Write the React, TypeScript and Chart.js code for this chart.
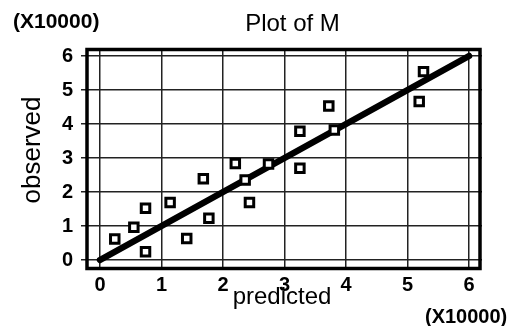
import React, { useEffect, useRef } from "react";
import { Chart, registerables } from "chart.js";

Chart.register(...registerables);

const predicted = [0.24, 0.55, 0.74, 0.74, 1.14, 1.41, 1.68, 1.77, 2.2, 2.36, 2.43, 2.74, 3.25, 3.25, 3.72, 3.81, 5.19, 5.26];
const observed = [0.62, 0.96, 1.52, 0.24, 1.69, 0.63, 2.39, 1.23, 2.84, 2.35, 1.69, 2.82, 2.7, 3.79, 4.53, 3.82, 4.66, 5.54];
const fitLine = [0, 6];
const xTicks = [0, 1, 2, 3, 4, 5, 6];
const yTicks = [0, 1, 2, 3, 4, 5, 6];
const titleText = "Plot of M";
const xTitle = "predicted";
const yTitle = "observed";
const scaleNote = "(X10000)";

const FONT = '"Liberation Sans", Arial, sans-serif';

const decorPlugin = {
  id: "decor",
  afterDraw(chart: any) {
    const ctx = chart.ctx;
    const ca = chart.chartArea;
    ctx.save();
    // frame
    ctx.strokeStyle = "#000";
    ctx.lineWidth = 3.5;
    ctx.strokeRect(ca.left + 2, ca.top + 1.5, ca.right - 2 - (ca.left + 2), ca.bottom - 1.5 - (ca.top + 1.5));
    ctx.fillStyle = "#000";
    // title
    ctx.font = `24px ${FONT}`;
    ctx.textAlign = "center";
    ctx.textBaseline = "alphabetic";
    ctx.fillText(titleText, 292.5, 30.5);
    // scale notes
    ctx.font = `bold 21px ${FONT}`;
    ctx.textAlign = "left";
    ctx.fillText(scaleNote, 13, 28);
    ctx.font = `bold 20px ${FONT}`;
    ctx.fillText(scaleNote, 425, 323);
    // x title
    ctx.font = `24px ${FONT}`;
    ctx.textAlign = "center";
    ctx.fillText(xTitle, 282, 304);
    // y title
    ctx.save();
    ctx.translate(40, 150);
    ctx.rotate(-Math.PI / 2);
    ctx.font = `26px ${FONT}`;
    ctx.textAlign = "center";
    ctx.fillText(yTitle, 0, 0);
    ctx.restore();
    ctx.restore();
  },
};

export default function App() {
  const ref = useRef<HTMLCanvasElement>(null);
  useEffect(() => {
    if (!ref.current) return;
    const tickFont = { family: FONT, size: 20, weight: "bold" as const };
    const chart = new Chart(ref.current, {
      type: "scatter",
      data: {
        datasets: [
          {
            label: "points",
            data: predicted.map((x, i) => ({ x, y: observed[i] })),
            pointStyle: "rect",
            pointRadius: 6,
            pointBorderWidth: 3,
            pointBackgroundColor: "#fff",
            pointBorderColor: "#000",
            showLine: false,
          },
          {
            label: "fit",
            data: fitLine.map((v) => ({ x: v, y: v })),
            showLine: true,
            borderColor: "#000",
            borderWidth: 6.5,
            borderCapStyle: "round",
            pointRadius: 0,
          },
        ],
      },
      options: {
        animation: false,
        responsive: true,
        maintainAspectRatio: false,
        layout: { padding: { top: 48, right: 34, left: 0, bottom: 0 } },
        plugins: {
          legend: { display: false },
          tooltip: { enabled: false },
          title: { display: false },
        },
        scales: {
          x: {
            type: "linear",
            position: "bottom",
            min: -0.244,
            max: 6.211,
            afterFit: (s: any) => {
              s.height = 56;
            },
            afterBuildTicks: (s: any) => {
              s.ticks = xTicks.map((v) => ({ value: v }));
            },
            grid: { color: "#222", lineWidth: 1.5, drawTicks: false },
            border: { display: false },
            ticks: {
              font: tickFont,
              color: "#000",
              padding: 3,
              maxRotation: 0,
              autoSkip: false,
            },
          },
          y: {
            type: "linear",
            position: "left",
            min: -0.294,
            max: 6.235,
            afterFit: (s: any) => {
              s.width = 85;
            },
            afterBuildTicks: (s: any) => {
              s.ticks = yTicks.map((v) => ({ value: v }));
            },
            grid: { color: "#222", lineWidth: 1.5, drawTicks: true, tickLength: 4 },
            border: { display: false },
            ticks: {
              font: tickFont,
              color: "#000",
              padding: 8,
              autoSkip: false,
            },
          },
        },
      },
      plugins: [decorPlugin],
    });
    return () => chart.destroy();
  }, []);
  return (
    <div style={{ position: "fixed", left: 0, top: 0, width: 516, height: 326, background: "#fff" }}>
      <canvas ref={ref} />
    </div>
  );
}
